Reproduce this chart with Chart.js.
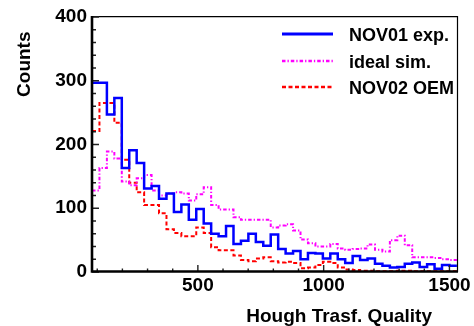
<!DOCTYPE html>
<html>
<head>
<meta charset="utf-8">
<script src="https://cdn.jsdelivr.net/npm/chart.js@4"></script>
<style>
    body { margin: 0; background: #fff; }
    #contenedor { width: 474px; height: 326px; }
</style>
</head>
<body>
<div id="contenedor"><canvas id="histograma"></canvas></div>
<script>
// Bins del histograma: 49 bins de 29.6 a partir de 79.2
const inicioBins = 79.2;
const anchoBin = 29.6;

// Cuentas por bin
const datosNov01 = [297, 297, 247, 273, 163, 191, 171, 131, 135, 115,
    123, 94, 106, 82, 99, 76, 60, 56, 72, 44,
    49, 60, 47, 41, 59, 36, 29, 33, 20, 30,
    29, 21, 29, 20, 14, 25, 19, 21, 13, 10,
    7, 8, 13, 15, 8, 12, 5, 11, 10];
const datosIdeal = [128, 163, 189, 178, 142, 136, 147, 152, 128, 120,
    123, 125, 123, 112, 122, 133, 105, 98, 98, 86,
    82, 82, 82, 82, 70, 73, 75, 65, 51, 45,
    40, 40, 44, 37, 35, 36, 37, 43, 35, 32,
    50, 57, 42, 23, 23, 23, 22, 20, 19];
const datosNov02 = [221, 265, 265, 234, 176, 140, 125, 105, 105, 92,
    67, 61, 56, 56, 70, 61, 39, 34, 34, 26,
    19, 17, 21, 23, 17, 15, 16, 14, 6, 7,
    11, 16, 14, 7, 4, 3, 2, 2, 1, 1,
    1, 2, 2, 1, 1, 1, 1, 1, 1];

const etiquetasSeries = ['NOV01 exp.', 'ideal sim.', 'NOV02 OEM'];
const ticksX = [500, 1000, 1500];
const ticksY = [0, 100, 200, 300, 400];
const tituloX = 'Hough Trasf. Quality';
const tituloY = 'Counts';

const fuente = "'Liberation Sans', Arial, Helvetica, sans-serif";

// Paso los valores a puntos: borde izquierdo de cada bin + punto de cierre
const aPuntos = (valores) => {
    const puntos = valores.map((v, i) => ({ x: inicioBins + anchoBin * i, y: v }));
    puntos.push({ x: inicioBins + anchoBin * valores.length, y: valores[valores.length - 1] });
    return puntos;
};

// Marco, ejes y marcas de division al estilo ROOT (marcas hacia dentro)
const marcoRoot = {
    id: 'marcoRoot',
    afterDatasetsDraw(chart) {
        const { ctx, chartArea: a, scales } = chart;
        ctx.save();
        ctx.strokeStyle = '#000';

        ctx.lineWidth = 1.2;
        ctx.beginPath();
        ctx.moveTo(a.left, a.top - 0.4);
        ctx.lineTo(a.right + 0.5, a.top - 0.4);
        ctx.lineTo(a.right + 0.5, a.bottom);
        ctx.stroke();

        ctx.lineWidth = 1.4;
        ctx.strokeStyle = '#222';
        ctx.beginPath();
        for (let v = 0; v <= 400; v += 20) {
            const y = scales.y.getPixelForValue(v);
            const largo = v % 100 === 0 ? 7 : 4;
            ctx.moveTo(a.left, y);
            ctx.lineTo(a.left + largo, y);
        }
        for (let v = 100; v <= 1500; v += 100) {
            const x = scales.x.getPixelForValue(v);
            const largo = v % 500 === 0 ? 7 : 3.5;
            ctx.moveTo(x, a.bottom);
            ctx.lineTo(x, a.bottom - largo);
        }
        ctx.stroke();

        ctx.strokeStyle = '#000';
        ctx.lineWidth = 2.6;
        ctx.beginPath();
        ctx.moveTo(a.left, a.top - 1);
        ctx.lineTo(a.left, a.bottom - 0.5);
        ctx.lineTo(a.right + 1, a.bottom - 0.5);
        ctx.stroke();
        ctx.restore();
    }
};

// Titulos de ejes y leyenda dentro del marco
const textosRoot = {
    id: 'textosRoot',
    afterDraw(chart) {
        const { ctx, chartArea: a } = chart;
        ctx.save();
        ctx.fillStyle = '#000';
        ctx.font = `bold 19px ${fuente}`;

        ctx.textAlign = 'right';
        ctx.textBaseline = 'alphabetic';
        ctx.fillText(tituloX, 432, 321.5);

        ctx.translate(30, 31.5);
        ctx.rotate(-Math.PI / 2);
        ctx.fillText(tituloY, 0, 0);
        ctx.restore();

        const filas = [34, 61, 87];
        chart.data.datasets.forEach((ds, i) => {
            ctx.save();
            ctx.strokeStyle = ds.borderColor;
            ctx.lineWidth = ds.borderWidth + 0.5;
            ctx.setLineDash(ds.borderDash || []);
            ctx.beginPath();
            ctx.moveTo(282, filas[i]);
            ctx.lineTo(333, filas[i]);
            ctx.stroke();
            ctx.setLineDash([]);
            ctx.fillStyle = '#000';
            ctx.font = `bold 18px ${fuente}`;
            ctx.textAlign = 'left';
            ctx.textBaseline = 'alphabetic';
            ctx.fillText(ds.label, 349, filas[i] + 6.5);
            ctx.restore();
        });
    }
};

const fuenteTicks = { family: fuente, size: 19, weight: 'bold' };

const ctxHist = document.getElementById('histograma').getContext('2d');
const histograma = new Chart(ctxHist, {
    type: 'line',
    data: {
        datasets: [{
            label: etiquetasSeries[0],
            data: aPuntos(datosNov01),
            borderColor: '#0000ff',
            borderWidth: 2.5,
            stepped: true,
            pointRadius: 0,
            fill: false
        }, {
            label: etiquetasSeries[1],
            data: aPuntos(datosIdeal),
            borderColor: '#ff00ff',
            borderWidth: 2,
            borderDash: [3.5, 2, 1.3, 2],
            stepped: true,
            pointRadius: 0,
            fill: false
        }, {
            label: etiquetasSeries[2],
            data: aPuntos(datosNov02),
            borderColor: '#ff0000',
            borderWidth: 2,
            borderDash: [4, 2.5],
            stepped: true,
            pointRadius: 0,
            fill: false
        }]
    },
    options: {
        responsive: true,
        maintainAspectRatio: false,
        animation: false,
        layout: { padding: { top: 17, right: 17, left: 0, bottom: 0 } },
        plugins: {
            legend: { display: false },
            tooltip: { enabled: false }
        },
        scales: {
            x: {
                type: 'linear',
                min: inicioBins,
                max: 1530,
                afterBuildTicks: (escala) => { escala.ticks = ticksX.map(v => ({ value: v })); },
                afterFit: (escala) => { escala.height = 54; },
                ticks: {
                    callback: (v) => String(v),
                    font: fuenteTicks,
                    color: '#000',
                    padding: 2,
                    maxRotation: 0,
                    autoSkip: false
                },
                grid: { display: false, drawTicks: false },
                border: { display: false }
            },
            y: {
                min: 0,
                max: 400,
                afterBuildTicks: (escala) => { escala.ticks = ticksY.map(v => ({ value: v })); },
                afterFit: (escala) => { escala.width = 92; },
                ticks: {
                    callback: (v) => String(v),
                    font: fuenteTicks,
                    color: '#000',
                    padding: 5
                },
                grid: { display: false, drawTicks: false },
                border: { display: false }
            }
        }
    },
    plugins: [marcoRoot, textosRoot]
});
</script>
</body>
</html>
